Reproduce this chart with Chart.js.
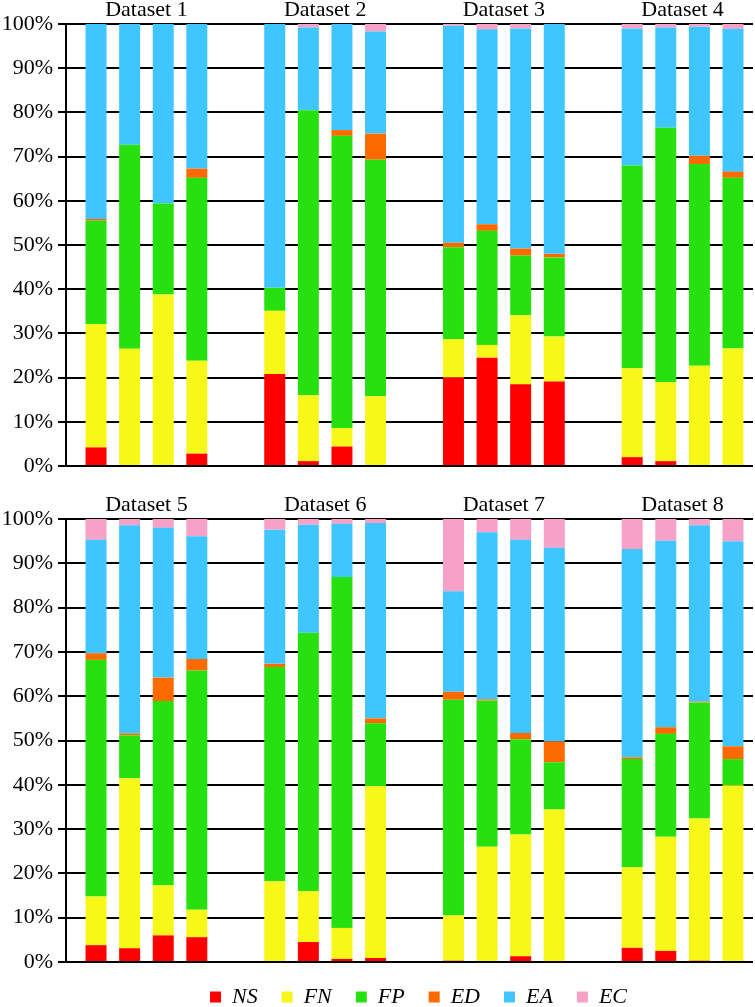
<!DOCTYPE html>
<html lang="en">
<head>
  <meta charset="UTF-8">
  <title>Error composition per dataset</title>
  <script src="https://cdn.jsdelivr.net/npm/chart.js"></script>
  <style>
    html, body { margin: 0; padding: 0; background: #fff; }
    .panel { position: absolute; left: 0; width: 755px; }
    #top { top: 0; height: 480px; }
    #bottom { top: 480px; height: 527px; }
  </style>
</head>
<body>
  <div class="panel" id="top"><canvas id="topChart"></canvas></div>
  <div class="panel" id="bottom"><canvas id="bottomChart"></canvas></div>
  <script>
    // 8 datasets x 4 bars each, values in % (bars 1-4 of Dataset 1, then Dataset 2, ...)
    const groups = ['Dataset 1', 'Dataset 2', 'Dataset 3', 'Dataset 4',
                    'Dataset 5', 'Dataset 6', 'Dataset 7', 'Dataset 8'];
    const seriesNames = ['NS', 'FN', 'FP', 'ED', 'EA', 'EC'];
    const seriesColors = ['#ff0000', '#f7f71a', '#27e00f', '#ff6a00', '#40c6ff', '#f7a1c9'];
    const yTicks = [0, 10, 20, 30, 40, 50, 60, 70, 80, 90, 100];

    const NS = [4.2, 0, 0, 2.8,   20.8, 1.1, 4.4, 0,    20.0, 24.5, 18.5, 19.1,  2.0, 1.1, 0, 0,
                3.8, 3.1, 6.0, 5.6,  0, 4.5, 0.7, 0.9,  0.3, 0, 1.3, 0.2,   3.2, 2.5, 0.3, 0];
    const FN = [27.9, 26.5, 38.8, 21.0,  14.3, 14.9, 4.2, 15.8,  8.7, 2.9, 15.6, 10.2,  20.1, 17.9, 22.7, 26.6,
                11.0, 38.4, 11.3, 6.2,  18.2, 11.5, 7.0, 38.8,  10.2, 26.0, 27.5, 34.2,  18.2, 25.8, 32.1, 39.9];
    const FP = [23.4, 46.2, 20.6, 41.4,  5.2, 64.5, 66.1, 53.5,  20.8, 25.8, 13.5, 17.9,  45.9, 57.5, 45.6, 38.6,
                53.4, 9.7, 41.6, 54.0,  48.4, 58.3, 79.2, 14.2,  48.7, 33.0, 21.5, 10.7,  24.4, 23.2, 26.2, 5.9];
    const ED = [0.4, 0, 0, 2.1,  0, 0, 1.3, 5.9,  1.0, 1.5, 1.6, 0.8,  0, 0, 1.9, 1.4,
                1.5, 0.4, 5.3, 2.6,  0.7, 0, 0, 1.1,  1.8, 0.3, 1.4, 4.7,  0.4, 1.5, 0.2, 2.9];
    const EA = [44.1, 27.3, 40.6, 32.7,  59.7, 18.7, 24.0, 23.1,  49.1, 44.1, 49.8, 52.0,  31.0, 22.7, 29.2, 32.3,
                25.6, 47.0, 33.8, 27.7,  30.3, 24.4, 12.0, 44.1,  22.7, 37.7, 43.6, 43.7,  47.0, 42.1, 39.8, 46.3];
    const EC = [0, 0, 0, 0,  0, 0.8, 0, 1.7,  0.4, 1.2, 1.0, 0,  1.0, 0.8, 0.6, 1.1,
                4.7, 1.4, 2.0, 3.9,  2.4, 1.3, 1.1, 0.9,  16.3, 3.0, 4.7, 6.5,  6.8, 4.9, 1.4, 5.0];

    const seriesValues = [NS, FN, FP, ED, EA, EC];
    const barsPerGroup = 4;
    const font = 'Liberation Serif';

    // legend in the original is centred under the plot area, not the whole canvas
    const legendUnderPlot = {
      id: 'legendUnderPlot',
      beforeDraw(chart) {
        const lg = chart.legend;
        if (!lg || !lg.options.display) return;
        lg.left = chart.chartArea.left + 18;
        lg.right = chart.chartArea.right;
      }
    };

    function buildDatasets(groupStart, groupCount) {
      const sets = [];
      seriesValues.forEach((vals, s) => {
        for (let b = 0; b < barsPerGroup; b++) {
          const data = [];
          for (let g = 0; g < groupCount; g++) {
            data.push({ x: g, y: vals[(groupStart + g) * barsPerGroup + b] });
          }
          sets.push({
            label: seriesNames[s],
            stack: 'bar' + b,
            data,
            backgroundColor: seriesColors[s],
            borderWidth: 0,
            categoryPercentage: 0.752,
            barPercentage: 0.625
          });
        }
      });
      return sets;
    }

    function makeChart(id, groupStart, topHeight, showLegend) {
      const names = groups.slice(groupStart, groupStart + 4);
      return new Chart(document.getElementById(id), {
        type: 'bar',
        data: { datasets: buildDatasets(groupStart, names.length) },
        plugins: [legendUnderPlot],
        options: {
          responsive: true,
          maintainAspectRatio: false,
          animation: false,
          layout: { padding: { left: 0, right: 2, top: 0, bottom: showLegend ? -11 : 14 } },
          plugins: {
            tooltip: { enabled: false },
            legend: {
              display: showLegend,
              position: 'bottom',
              labels: {
                boxWidth: 11,
                boxHeight: 11,
                padding: 24,
                color: '#000',
                font: { family: font, size: 22, style: 'italic' },
                filter: (item, data) => data.datasets[item.datasetIndex].stack === 'bar0'
              }
            }
          },
          scales: {
            x: {
              type: 'linear',
              position: 'top',
              offset: false,
              min: -0.45,
              max: 3.394,
              grid: { display: false, drawTicks: false },
              border: { display: false },
              afterFit: s => { s.height = topHeight; },
              afterBuildTicks: s => { s.ticks = names.map((n, i) => ({ value: i })); },
              ticks: {
                autoSkip: false,
                maxRotation: 0,
                padding: 1,
                color: '#000',
                font: { family: font, size: 22 },
                callback: v => names[v]
              }
            },
            y: {
              stacked: true,
              min: 0,
              max: 100,
              afterFit: s => { s.width = 66; s.paddingTop = 0; s.paddingBottom = 0; },
              afterBuildTicks: s => { s.ticks = yTicks.map(v => ({ value: v })); },
              grid: { color: '#000', lineWidth: 2, tickLength: 8 },
              border: { display: true, color: '#000', width: 2 },
              ticks: {
                padding: 5,
                color: '#000',
                font: { family: font, size: 22 },
                callback: v => v + '%'
              }
            }
          }
        }
      });
    }

    makeChart('topChart', 0, 24, false);
    makeChart('bottomChart', 4, 39, true);
  </script>
</body>
</html>
